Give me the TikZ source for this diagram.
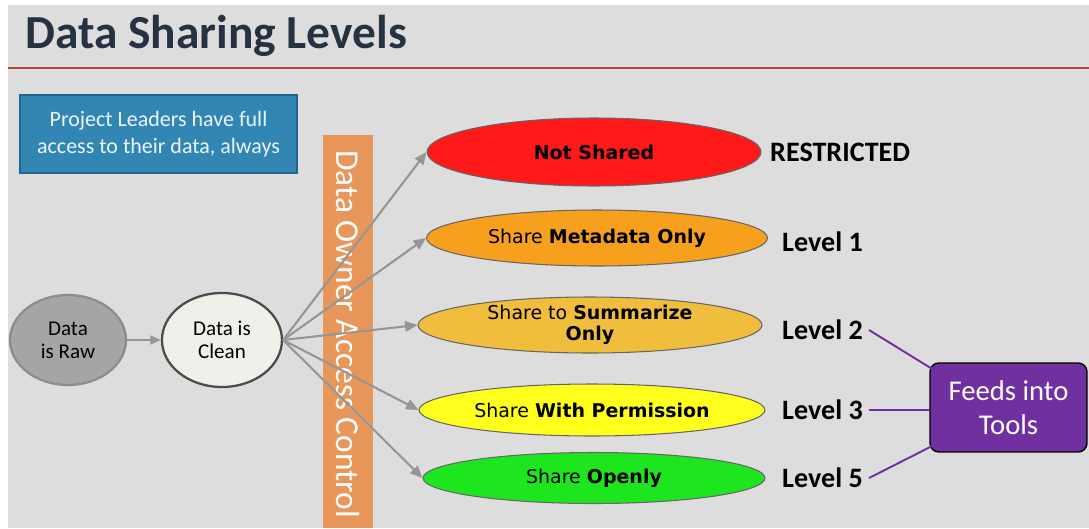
\documentclass[tikz,border=0pt]{standalone}
\usepackage{fontspec}
\setmainfont{Carlito}
\newfontfamily\verd{DejaVu Sans}
\usetikzlibrary{shapes.geometric,arrows.meta}

\definecolor{bggray}{RGB}{221,221,221}
\definecolor{titleblue}{RGB}{38,50,65}
\definecolor{rulered}{RGB}{180,70,55}
\definecolor{boxblue}{RGB}{49,134,180}
\definecolor{boxblueline}{RGB}{37,100,140}
\definecolor{barorange}{RGB}{233,150,90}
\definecolor{rawgray}{RGB}{165,165,165}
\definecolor{cleanwhite}{RGB}{240,240,235}
\definecolor{arrowgray}{RGB}{150,150,150}
\definecolor{lvred}{RGB}{255,25,25}
\definecolor{lvorange}{RGB}{247,160,30}
\definecolor{lvgold}{RGB}{240,190,60}
\definecolor{lvyellow}{RGB}{255,255,30}
\definecolor{lvgreen}{RGB}{30,230,30}
\definecolor{toolpurple}{RGB}{112,48,160}

\begin{document}
\begin{tikzpicture}[x=0.02cm, y=-0.02cm, node distance={3.08cm},
        state/.style = {draw, ellipse, line width=1.3pt, align=center, font=\fontsize{12}{13}\selectfont},
        level/.style = {draw=black!60, ellipse, line width=0.6pt, align=center, inner sep=0pt, font=\verd\fontsize{10.8}{12}\selectfont},
        tag/.style = {anchor=west, font=\bfseries\fontsize{16}{18}\selectfont},
        flow/.style = {-{Triangle[length=7pt,width=6pt]}, arrowgray, line width=1.2pt},
        feed/.style = {toolpurple, line width=1.1pt}]
        \useasboundingbox (0,0) rectangle (1089,528);
        \fill[bggray] (8,5) rectangle (1089,528);

        % heading
        \node[anchor=base west, text=titleblue, font=\bfseries\fontsize{27}{30}\selectfont] (title) at (19,48) {Data Sharing Levels};
        \draw[rulered, line width=1.2pt] (8,68) -- (1089,68);

        % side note and access bar
        \node[draw=boxblueline, fill=boxblue, text=white!92!boxblue, line width=0.8pt, minimum width=5.54cm, minimum height=1.56cm, align=center, font=\fontsize{12.5}{15}\selectfont] (note) at (158.5,134) {Project Leaders have full\\access to their data, always};
        \fill[barorange] (323,135) rectangle (373,528);
        \node[rotate=-90, text=white, font=\fontsize{19}{20}\selectfont] (bar) at (348,334) {Data Owner Access Control};

        % data states
        \node[state, fill=rawgray, draw=black!45, minimum width=2.32cm, minimum height=1.8cm] (raw) at (68,340) {Data\\is Raw};
        \node[state, fill=cleanwhite, draw=black!70, minimum width=2.4cm, minimum height=1.88cm] (clean) [right of = raw] {Data is\\Clean};

        % sharing levels
        \node[level, fill=lvred, minimum width=6.68cm, minimum height=1.36cm] (ns) at (594,152) {\bfseries Not Shared};
        \node[level, fill=lvorange, minimum width=6.82cm, minimum height=1.12cm] (meta) at (597,238) {Share \bfseries Metadata Only};
        \node[level, fill=lvgold, minimum width=6.88cm, minimum height=1.0cm] (summ) at (590,325) {Share to \textbf{Summarize}\\\bfseries Only};
        \node[level, fill=lvyellow, minimum width=6.92cm, minimum height=1.04cm] (perm) at (592,410) {Share \bfseries With Permission};
        \node[level, fill=lvgreen, minimum width=6.84cm, minimum height=1.02cm] (open) at (594,478) {Share \bfseries Openly};

        \node[tag] (restr) at (764,152) {RESTRICTED};
        \node[tag] (lv1) at (776,242) {Level 1};
        \node[tag] (lv2) at (776,330) {Level 2};
        \node[tag] (lv3) at (776,410) {Level 3};
        \node[tag] (lv5) at (776,478) {Level 5};

        \node[draw=black, fill=toolpurple, text=white, rounded corners=5pt, line width=0.8pt, minimum width=3.14cm, minimum height=1.78cm, align=center, font=\fontsize{16.3}{19}\selectfont] (tools) at (1008.5,407.5) {Feeds into\\Tools};

        \draw[-{Triangle[length=6pt,width=5pt]}, arrowgray, line width=1.2pt] (raw) -- (clean);
        \draw[flow] (clean.east) -- (ns.west);
        \draw[flow] (clean.east) -- (meta.west);
        \draw[flow] (clean.east) -- (summ.west);
        \draw[flow] (clean.east) -- (perm.west);
        \draw[flow] (clean.east) -- (open.west);

        \draw[feed] (lv2.east) -- ([xshift=2pt,yshift=-4pt]tools.north west);
        \draw[feed] (lv3.east) -- (tools.west |- lv3.east);
        \draw[feed] (lv5.east) -- ([xshift=2pt,yshift=4pt]tools.south west);
    \end{tikzpicture}
\end{document}
